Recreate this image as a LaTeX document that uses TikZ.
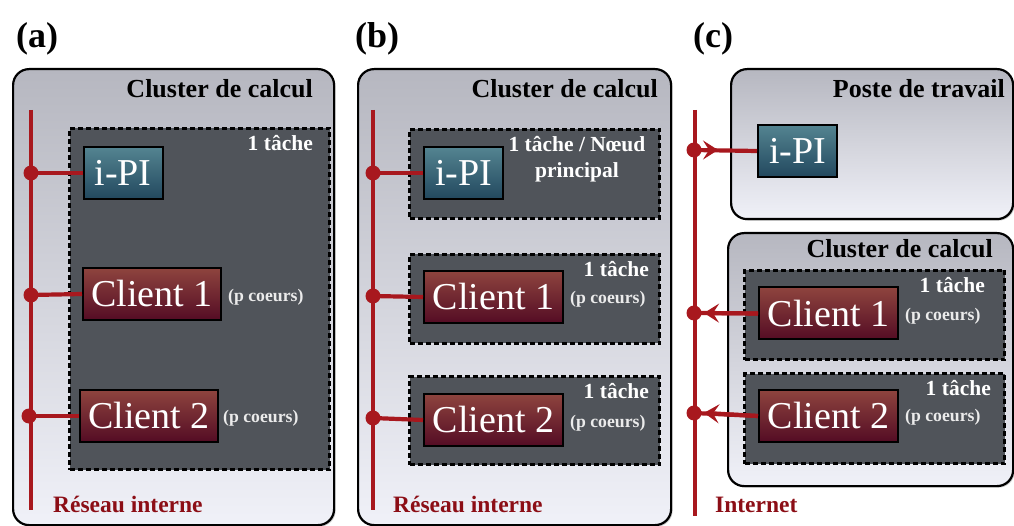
\documentclass[tikz,border=0pt]{standalone}
\usepackage{fontspec}
\setmainfont{Liberation Serif}
\usetikzlibrary{shadows,arrows.meta}
\definecolor{netred}{RGB}{168,24,30}
\definecolor{txtred}{RGB}{140,14,22}
\definecolor{outtop}{RGB}{182,183,192}
\definecolor{outbot}{RGB}{240,241,248}
\definecolor{taskfill}{RGB}{80,84,90}
\definecolor{ipitop}{RGB}{84,132,145}
\definecolor{ipibot}{RGB}{34,72,94}
\definecolor{clitop}{RGB}{142,68,62}
\definecolor{clibot}{RGB}{84,12,36}
\tikzset{
  outerbox/.style={draw=black, line width=2.2pt, rounded corners=16pt, top color=outtop, bottom color=outbot,
    anchor=north west, inner sep=0pt, drop shadow={opacity=0.45, shadow xshift=1.5pt, shadow yshift=-1.5pt}},
  taskbox/.style={draw=black, line width=3pt, dash pattern=on 5pt off 3pt, fill=taskfill, anchor=north west, inner sep=0pt},
  ipibox/.style={draw=black, line width=2pt, top color=ipitop, bottom color=ipibot, text=white,
    font=\fontsize{38}{42}\selectfont, inner sep=0pt, minimum width=79pt, minimum height=52pt},
  clibox/.style={draw=black, line width=2pt, top color=clitop, bottom color=clibot, text=white,
    font=\fontsize{38}{42}\selectfont, inner sep=0pt, minimum width=138pt, minimum height=52pt},
  titletxt/.style={font=\bfseries\fontsize{26}{29}\selectfont, anchor=base east, inner sep=0pt},
  tasktxt/.style={font=\bfseries\fontsize{21.5}{26}\selectfont, text=white, anchor=base east, inner sep=0pt},
  coretxt/.style={font=\bfseries\fontsize{17.7}{21}\selectfont, text=white!92!black, anchor=west, inner sep=0pt},
  nettxt/.style={font=\bfseries\fontsize{23.5}{27}\selectfont, text=txtred, anchor=base west, inner sep=0pt},
  paneltxt/.style={font=\bfseries\fontsize{36}{40}\selectfont, anchor=base west, inner sep=0pt},
  netline/.style={draw=netred, line width=4.5pt},
  link/.style={draw=netred, line width=4.2pt},
  netdot/.style={circle, fill=netred, inner sep=0pt, minimum size=15pt},
  tipped/.style={draw=netred, line width=4.2pt, -{Stealth[length=15pt, width=19pt, inset=6pt]}, shorten >=-2pt}
}
\begin{document}
\begin{tikzpicture}[x=1pt,y=-1pt]
\useasboundingbox (0,0) rectangle (1014,526);

% ---------------- panel labels
\node[paneltxt] (la) at (16,48) {(a)};
\node[paneltxt] (lb) at (355,48) {(b)};
\node[paneltxt] (lc) at (693,48) {(c)};

% ---------------- panel (a)
\node[outerbox, minimum width=321pt, minimum height=456pt] (A) at (12,68) {};
\node[titletxt] (Atitle) at (313,98) {Cluster de calcul};
\node[taskbox, minimum width=260pt, minimum height=341pt] (At) at (68,127) {};
\node[tasktxt] (Atask) at (313,151) {1 tâche};
\node[ipibox] (Aipi) at (123,173) {i-PI};
\node[clibox] (Ac1) at (152,294) {Client 1};
\node[coretxt] (Ap1) at (228,297) {(p coeurs)};
\node[clibox] (Ac2) at (149,416) {Client 2};
\node[coretxt] (Ap2) at (223,418) {(p coeurs)};
\coordinate (Atop) at (31,110);
\coordinate (Abot) at (31,510);
\draw[netline] (Atop) -- (Abot);
\node[netdot] (Ad1) at (31,173) {};
\node[netdot] (Ad2) at (31,295) {};
\node[netdot] (Ad3) at (29,416) {};
\draw[link] (Ad1.center) -- (Aipi.west);
\draw[link] (Ad2.center) -- (Ac1.west);
\draw[link] (Ad3.center) -- (Ac2.west);
\node[nettxt] (Anet) at (53,512) {Réseau interne};

% ---------------- panel (b)
\node[outerbox, minimum width=313pt, minimum height=456pt] (B) at (357,68) {};
\node[titletxt] (Btitle) at (658,98) {Cluster de calcul};
\node[taskbox, minimum width=250pt, minimum height=89pt] (Bt1) at (408,128) {};
\node[taskbox, minimum width=250pt, minimum height=89pt] (Bt2) at (408,253) {};
\node[taskbox, minimum width=250pt, minimum height=88pt] (Bt3) at (408,375) {};
\node[ipibox] (Bipi) at (463.5,173) {i-PI};
\node[font=\bfseries\fontsize{21.5}{26}\selectfont, text=white, align=center, inner sep=0pt] (Btask1) at (577,159) {1 tâche / Nœud\\principal};
\node[clibox, minimum width=139pt] (Bc1) at (493.5,297) {Client 1};
\node[tasktxt] (Btask2) at (649,277) {1 tâche};
\node[coretxt] (Bp1) at (570,299) {(p coeurs)};
\node[clibox, minimum width=139pt] (Bc2) at (493.5,420) {Client 2};
\node[tasktxt] (Btask3) at (649,398) {1 tâche};
\node[coretxt] (Bp2) at (570,423) {(p coeurs)};
\coordinate (Btop) at (373,110);
\coordinate (Bbot) at (373,510);
\draw[netline] (Btop) -- (Bbot);
\node[netdot] (Bd1) at (373,173) {};
\node[netdot] (Bd2) at (373,296) {};
\node[netdot] (Bd3) at (373,418) {};
\draw[link] (Bd1.center) -- (Bipi.west);
\draw[link] (Bd2.center) -- (Bc1.west);
\draw[link] (Bd3.center) -- (Bc2.west);
\node[nettxt] (Bnet) at (393,512) {Réseau interne};

% ---------------- panel (c)
\node[outerbox, minimum width=282pt, minimum height=150pt] (Cw) at (730,68) {};
\node[titletxt] (Cwtitle) at (1005,98) {Poste de travail};
\node[ipibox] (Cipi) at (797.5,151) {i-PI};
\node[outerbox, minimum width=285pt, minimum height=253pt] (Cc) at (727,232) {};
\node[titletxt] (Cctitle) at (993,258) {Cluster de calcul};
\node[taskbox, minimum width=260pt, minimum height=89pt] (Ct1) at (743,269) {};
\node[taskbox, minimum width=260pt, minimum height=90pt] (Ct2) at (743,372) {};
\node[clibox, minimum width=139pt] (Cc1) at (828.5,313.5) {Client 1};
\node[tasktxt] (Ctask1) at (985,293) {1 tâche};
\node[coretxt] (Cp1) at (905,316) {(p coeurs)};
\node[clibox, minimum width=139pt] (Cc2) at (828.5,416) {Client 2};
\node[tasktxt] (Ctask2) at (991,395) {1 tâche};
\node[coretxt] (Cp2) at (905,417) {(p coeurs)};
\coordinate (Ctop) at (695,110);
\coordinate (Cbot) at (695,516);
\draw[netline] (Ctop) -- (Cbot);
\node[netdot] (Cd1) at (694,150) {};
\node[netdot] (Cd2) at (694,313) {};
\node[netdot] (Cd3) at (694,413) {};
\coordinate (Ca1) at (716,150);
\coordinate (Ca2) at (706,313);
\coordinate (Ca3) at (706,413);
\draw[link] (Cd1.center) -- (Cipi.west);
\draw[link] (Cd2.center) -- (Cc1.west);
\draw[link] (Cd3.center) -- (Cc2.west);
\draw[tipped] (Cd1.center) -- (Ca1);
\draw[tipped] (Cc1.west) -- (Ca2);
\draw[tipped] (Cc2.west) -- (Ca3);
\node[nettxt] (Cnet) at (715,512) {Internet};
\end{tikzpicture}
\end{document}
